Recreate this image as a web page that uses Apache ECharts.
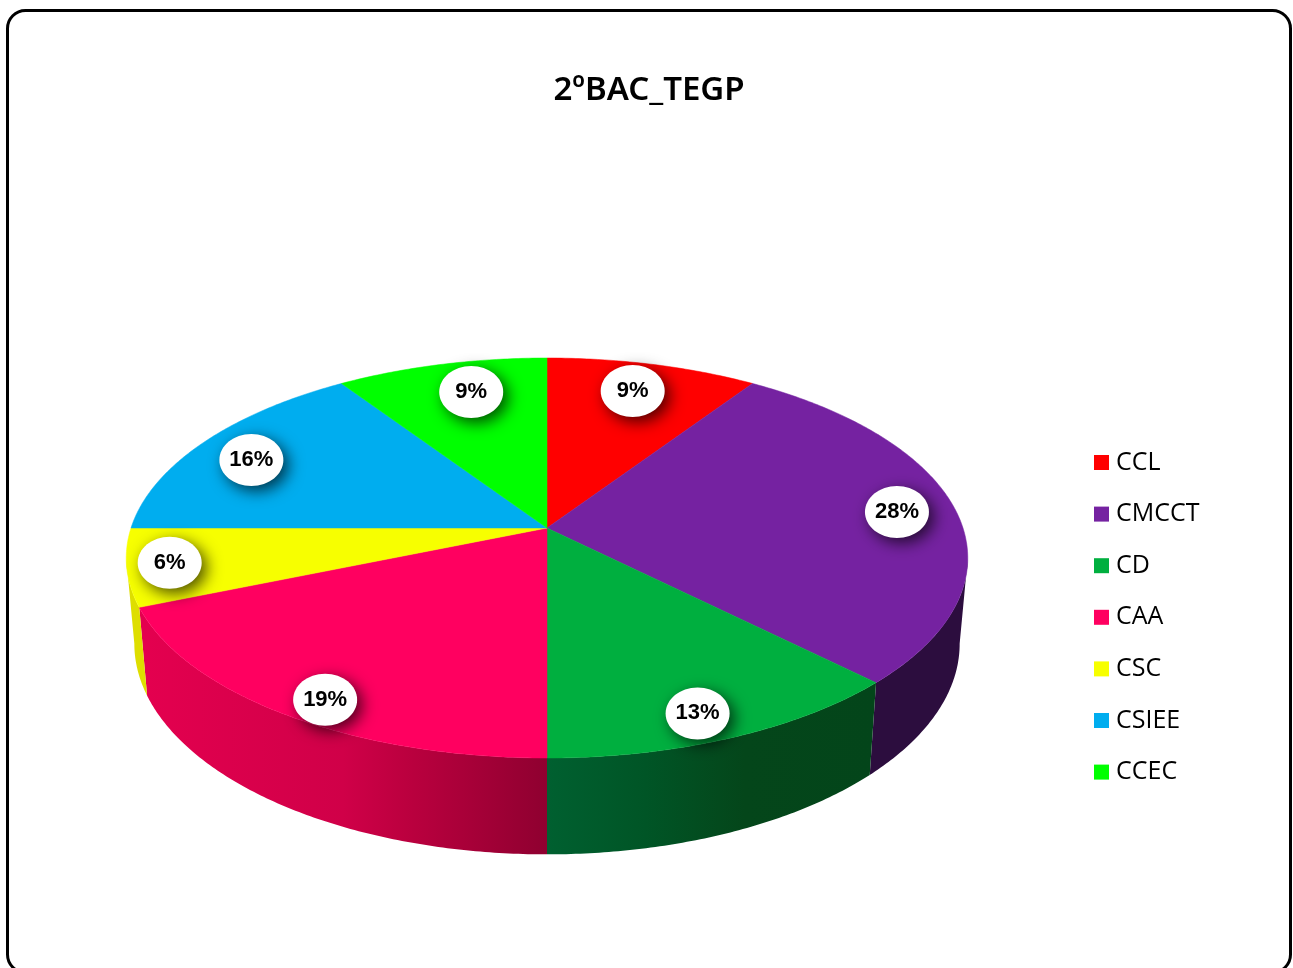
<!DOCTYPE html>
<html>
<head>
<meta charset="utf-8">
<style>html,body{margin:0;padding:0;background:#fff}#c{width:1293px;height:968px}</style>
<script src="https://cdn.jsdelivr.net/npm/echarts@6/dist/echarts.min.js"></script>
</head>
<body>
<div id="c"></div>
<script>
const titleText = '2ºBAC_TEGP';
const categories = ['CCL', 'CMCCT', 'CD', 'CAA', 'CSC', 'CSIEE', 'CCEC'];
const values = [3, 9, 4, 6, 2, 5, 3];
const topColors = ['#FF0000', '#7522A1', '#00AF3F', '#FF0060', '#F7FF00', '#00ADEF', '#00FF00'];
const wallStops = [
  [[0, '#800000'], [1, '#800000']],
  [[0, '#2C0D3E'], [1, '#2C0D3E']],
  [[0, '#006030'], [0.3, '#005526'], [0.6, '#04461A'], [1, '#03451A']],
  [[0, '#E4004F'], [0.5, '#D00048'], [0.65, '#BC003F'], [1, '#8F0030']],
  [[0, '#DEDE00'], [1, '#DEDE00']],
  [[0, '#005A80'], [1, '#005A80']],
  [[0, '#008000'], [1, '#008000']]
];
// bubble placement per slice: fraction of radius and angular nudge in degrees
const bubbleRadius = [0.822, 0.857, 0.885, 0.905, 0.90, 0.838, 0.809];
const bubbleNudge = [-0.6, -0.3, 1.5, -2.35, 0.45, -1.7, 2.3];

// projected circles of the disc's top and bottom faces
const topFace = { cx: 547, cy: 528, m: 416, k: 195.5, c: -0.15 };
const botFace = { cx: 547, cy: 612, m: 408, k: 206, c: -0.15 };
function project(f, theta, r) {
  const u = r * Math.sin(theta), v = -r * Math.cos(theta), d = 1 + f.c * v;
  return [f.cx + f.m * u / d, f.cy + f.k * v / d];
}
function arc(f, a0, a1) {
  const n = Math.max(2, Math.ceil(Math.abs(a1 - a0) / 0.01)), out = [];
  for (let i = 0; i <= n; i++) out.push(project(f, a0 + (a1 - a0) * i / n, 1));
  return out;
}
const total = values.reduce((a, b) => a + b, 0);
// angles where the disc's outline turns from front to back
const silhouette = Math.acos(topFace.c);

function makeRender(idx) {
  return function (params, api) {
    const before = values.slice(0, idx).reduce((a, b) => a + b, 0);
    const a0 = before / total * 2 * Math.PI;
    const a1 = (before + api.value(0)) / total * 2 * Math.PI;
    const children = [];
    const color = topColors[idx];
    children.push({
      type: 'polygon', z2: 5,
      shape: { points: [project(topFace, 0, 0)].concat(arc(topFace, a0, a1)) },
      style: { fill: color, stroke: color, lineWidth: 0.5 }
    });
    const w0 = Math.max(a0, silhouette), w1 = Math.min(a1, 2 * Math.PI - silhouette);
    if (w1 > w0) {
      const pts = arc(topFace, w0, w1).concat(arc(botFace, w0, w1).reverse());
      children.push({
        type: 'polygon', z2: 1,
        shape: { points: pts },
        style: {
          fill: {
            type: 'linear', x: 0, y: 0, x2: 1, y2: 0,
            colorStops: wallStops[idx].map(s => ({ offset: s[0], color: s[1] }))
          }
        }
      });
    }
    const mid = (a0 + a1) / 2 + bubbleNudge[idx] * Math.PI / 180;
    const p = project(topFace, mid, bubbleRadius[idx]);
    children.push({
      type: 'ellipse', z2: 8,
      shape: { cx: p[0], cy: p[1] + 1, rx: 32, ry: 26 },
      style: { fill: '#fff', shadowBlur: 16, shadowOffsetX: 5, shadowOffsetY: 5, shadowColor: 'rgba(0,0,0,0.7)' }
    });
    children.push({
      type: 'text', z2: 9,
      style: {
        text: Math.round(api.value(0) / total * 100) + '%',
        x: p[0], y: p[1] + 1, align: 'center', verticalAlign: 'middle',
        fill: '#000', font: 'bold 22px "Liberation Sans", Arial, sans-serif'
      }
    });
    return { type: 'group', children };
  };
}

const chart = echarts.init(document.getElementById('c'), null, { renderer: 'canvas' });
chart.setOption({
  animation: false,
  backgroundColor: '#fff',
  title: {
    text: titleText, left: 644, top: 69, textAlign: 'center',
    textStyle: { fontFamily: '"Noto Sans"', fontWeight: 600, fontSize: 33, color: '#000' }
  },
  legend: {
    orient: 'vertical', left: 1089, top: 445, itemWidth: 15, itemHeight: 15, itemGap: 26.6,
    icon: 'rect', selectedMode: false,
    data: categories,
    textStyle: { fontFamily: '"Open Sans"', fontSize: 25, color: '#000', height: 25, lineHeight: 25, padding: [0, 0, 0, 2] }
  },
  graphic: [{
    type: 'rect', z: -1, silent: true,
    shape: { x: 7.5, y: 10.5, width: 1283, height: 962, r: 18 },
    style: { fill: '#fff', stroke: '#000', lineWidth: 3 }
  }],
  series: categories.map((name, i) => ({
    type: 'custom', name, coordinateSystem: 'none', silent: true,
    itemStyle: { color: topColors[i] },
    renderItem: makeRender(i),
    data: [[values[i]]]
  }))
});
</script>
</body>
</html>
